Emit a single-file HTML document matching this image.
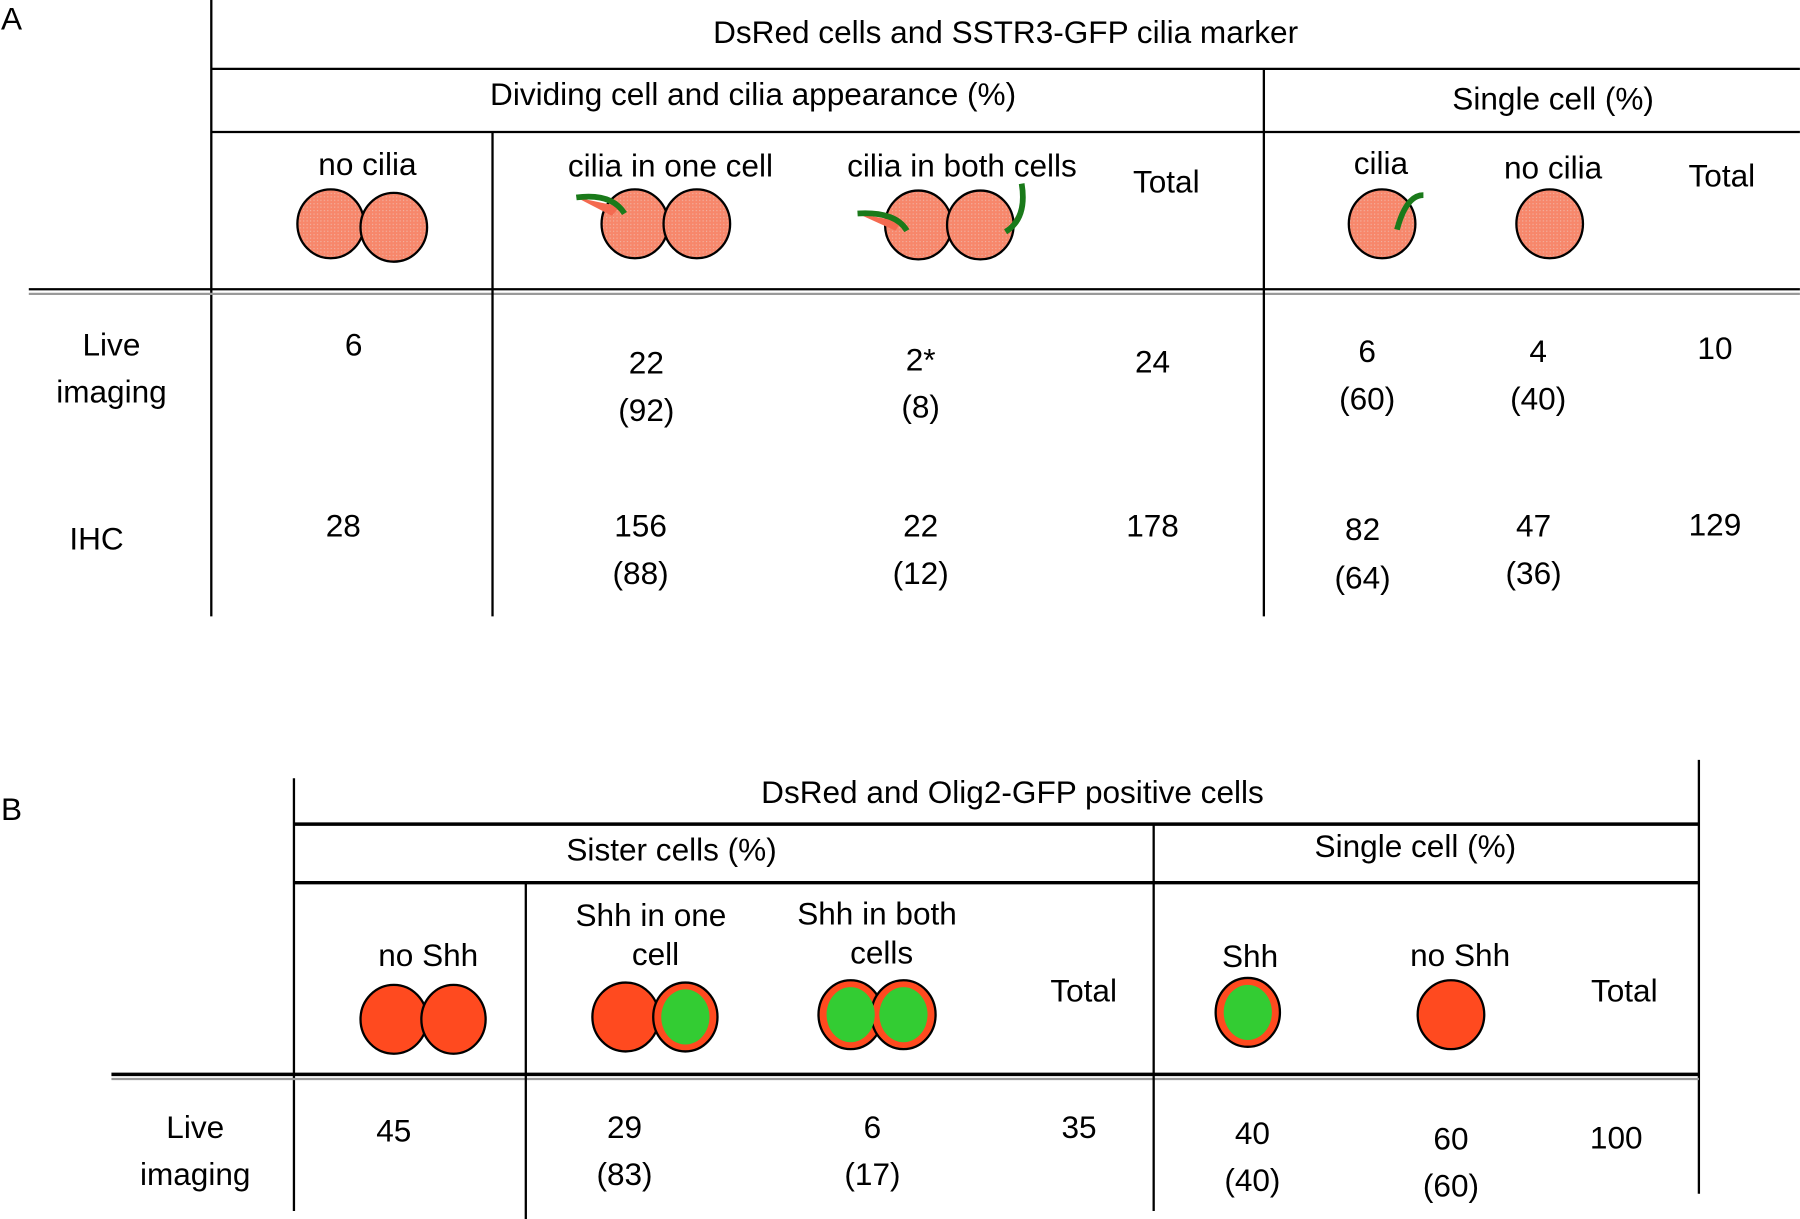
<!DOCTYPE html>
<html><head><meta charset="utf-8"><style>
html,body{margin:0;padding:0;background:#fff;}
svg{display:block;}
text{font-family:"Liberation Sans",Arial,sans-serif;font-size:27.5px;fill:#000;dominant-baseline:central;text-anchor:middle;}
</style></head><body>
<svg width="1800" height="1219" viewBox="0 0 1568 1062" xmlns="http://www.w3.org/2000/svg">
<defs>
<pattern id="dots" width="3" height="3" patternUnits="userSpaceOnUse"><rect width="3" height="3" fill="#f7876b"/><rect width="1" height="1" fill="#f2b3a3"/></pattern>
</defs>
<g stroke="#000" stroke-width="2" fill="none">
<line x1="184" y1="0" x2="184" y2="537"/>
<line x1="184" y1="60" x2="1568" y2="60"/>
<line x1="184" y1="115" x2="1568" y2="115"/>
<line x1="25" y1="252" x2="1568" y2="252"/>
<line x1="25" y1="256" x2="1568" y2="256" stroke="#999"/>
<line x1="429" y1="115" x2="429" y2="537"/>
<line x1="1101" y1="60" x2="1101" y2="537"/>
</g>
<g>
<text x="10" y="16">A</text>
<text x="876" y="28">DsRed cells and SSTR3-GFP cilia marker</text>
<text x="656" y="82">Dividing cell and cilia appearance (%)</text>
<text x="1353" y="86">Single cell (%)</text>
<text x="320" y="143">no cilia</text>
<text x="584" y="144">cilia in one cell</text>
<text x="838" y="144">cilia in both cells</text>
<text x="1016" y="158">Total</text>
<text x="1203" y="142">cilia</text>
<text x="1353" y="146">no cilia</text>
<text x="1500" y="153">Total</text>
<text x="97" y="300">Live</text><text x="97" y="341">imaging</text>
<text x="84" y="469">IHC</text>
<text x="308" y="300">6</text>
<text x="563" y="316">22</text><text x="563" y="357">(92)</text>
<text x="802" y="313">2*</text><text x="802" y="354">(8)</text>
<text x="1004" y="315">24</text>
<text x="1191" y="306">6</text><text x="1191" y="347">(60)</text>
<text x="1340" y="306">4</text><text x="1340" y="347">(40)</text>
<text x="1494" y="303">10</text>
<text x="299" y="458">28</text>
<text x="558" y="458">156</text><text x="558" y="499">(88)</text>
<text x="802" y="458">22</text><text x="802" y="499">(12)</text>
<text x="1004" y="458">178</text>
<text x="1187" y="461">82</text><text x="1187" y="503">(64)</text>
<text x="1336" y="458">47</text><text x="1336" y="499">(36)</text>
<text x="1494" y="457">129</text>
</g>
<g stroke="#000" stroke-width="2" fill="url(#dots)">
<ellipse cx="288" cy="195" rx="29" ry="30"/><ellipse cx="343" cy="198" rx="29" ry="30"/>
<ellipse cx="553" cy="195" rx="29" ry="30"/><ellipse cx="607" cy="195" rx="29" ry="30"/>
<ellipse cx="800" cy="196" rx="29" ry="30"/><ellipse cx="854" cy="196" rx="29" ry="30"/>
<ellipse cx="1204" cy="195" rx="29" ry="30"/><ellipse cx="1350" cy="195" rx="29" ry="30"/>
<path d="M502,172 L540,180 L533,188 Z" fill="#f46a50" stroke="none"/>
<path d="M502,172 Q533,168 544,186" stroke="#1a7a1a" stroke-width="5" fill="none"/>
<path d="M747,186 L785,193 L780,201 Z" fill="#f46a50" stroke="none"/>
<path d="M747,186 Q780,184 790,201" stroke="#1a7a1a" stroke-width="5" fill="none"/>
<path d="M890,180 L877,202 L886,190 Z" fill="#f46a50" stroke="none"/>
<path d="M890,160 Q895,190 876,202" stroke="#1a7a1a" stroke-width="5" fill="none"/>
<path d="M1217,200 Q1225,170 1240,170" stroke="#1a7a1a" stroke-width="5" fill="none"/>
</g>
<g stroke="#000" stroke-width="2" fill="none">
<line x1="256" y1="678" x2="256" y2="1055"/>
<line x1="1480" y1="662" x2="1480" y2="1040"/>
<line x1="256" y1="718" x2="1480" y2="718" stroke-width="3"/>
<line x1="256" y1="769" x2="1480" y2="769" stroke-width="3"/>
<line x1="97" y1="936" x2="1480" y2="936" stroke-width="3"/>
<line x1="97" y1="940" x2="1480" y2="940" stroke="#999"/>
<line x1="458" y1="769" x2="458" y2="1062"/>
<line x1="1005" y1="718" x2="1005" y2="1055"/>
</g>
<g>
<text x="10" y="705">B</text>
<text x="882" y="690">DsRed and Olig2-GFP positive cells</text>
<text x="585" y="740">Sister cells (%)</text>
<text x="1233" y="737">Single cell  (%)</text>
<text x="373" y="832">no Shh</text>
<text x="567" y="797">Shh in one</text><text x="571" y="831">cell</text>
<text x="764" y="796">Shh in both</text><text x="768" y="830">cells</text>
<text x="944" y="863">Total</text>
<text x="1089" y="833">Shh</text>
<text x="1272" y="832">no Shh</text>
<text x="1415" y="863">Total</text>
<text x="170" y="982">Live</text><text x="170" y="1023">imaging</text>
<text x="343" y="985">45</text>
<text x="544" y="982">29</text><text x="544" y="1023">(83)</text>
<text x="760" y="982">6</text><text x="760" y="1023">(17)</text>
<text x="940" y="982">35</text>
<text x="1091" y="987">40</text><text x="1091" y="1028">(40)</text>
<text x="1264" y="992">60</text><text x="1264" y="1033">(60)</text>
<text x="1408" y="991">100</text>
</g>
<g stroke="#000" stroke-width="2">
<ellipse cx="343" cy="888" rx="29" ry="30" fill="#ff4a1f"/><ellipse cx="395" cy="888" rx="28" ry="30" fill="#ff4a1f"/>
<ellipse cx="545" cy="886" rx="29" ry="30" fill="#ff4a1f"/><ellipse cx="597" cy="886" rx="28" ry="30" fill="#ff4a1f"/>
<ellipse cx="597" cy="886" rx="21" ry="24" fill="#33cc33" stroke="none"/>
<ellipse cx="741" cy="884" rx="28" ry="30" fill="#ff4a1f"/><ellipse cx="787" cy="884" rx="28" ry="30" fill="#ff4a1f"/>
<ellipse cx="741" cy="884" rx="21" ry="24" fill="#33cc33" stroke="none"/><ellipse cx="787" cy="884" rx="21" ry="24" fill="#33cc33" stroke="none"/>
<ellipse cx="1087" cy="882" rx="28" ry="30" fill="#ff4a1f"/>
<ellipse cx="1087" cy="882" rx="21" ry="24" fill="#33cc33" stroke="none"/>
<ellipse cx="1264" cy="884" rx="29" ry="30" fill="#ff4a1f"/>
</g>
</svg>
</body></html>
